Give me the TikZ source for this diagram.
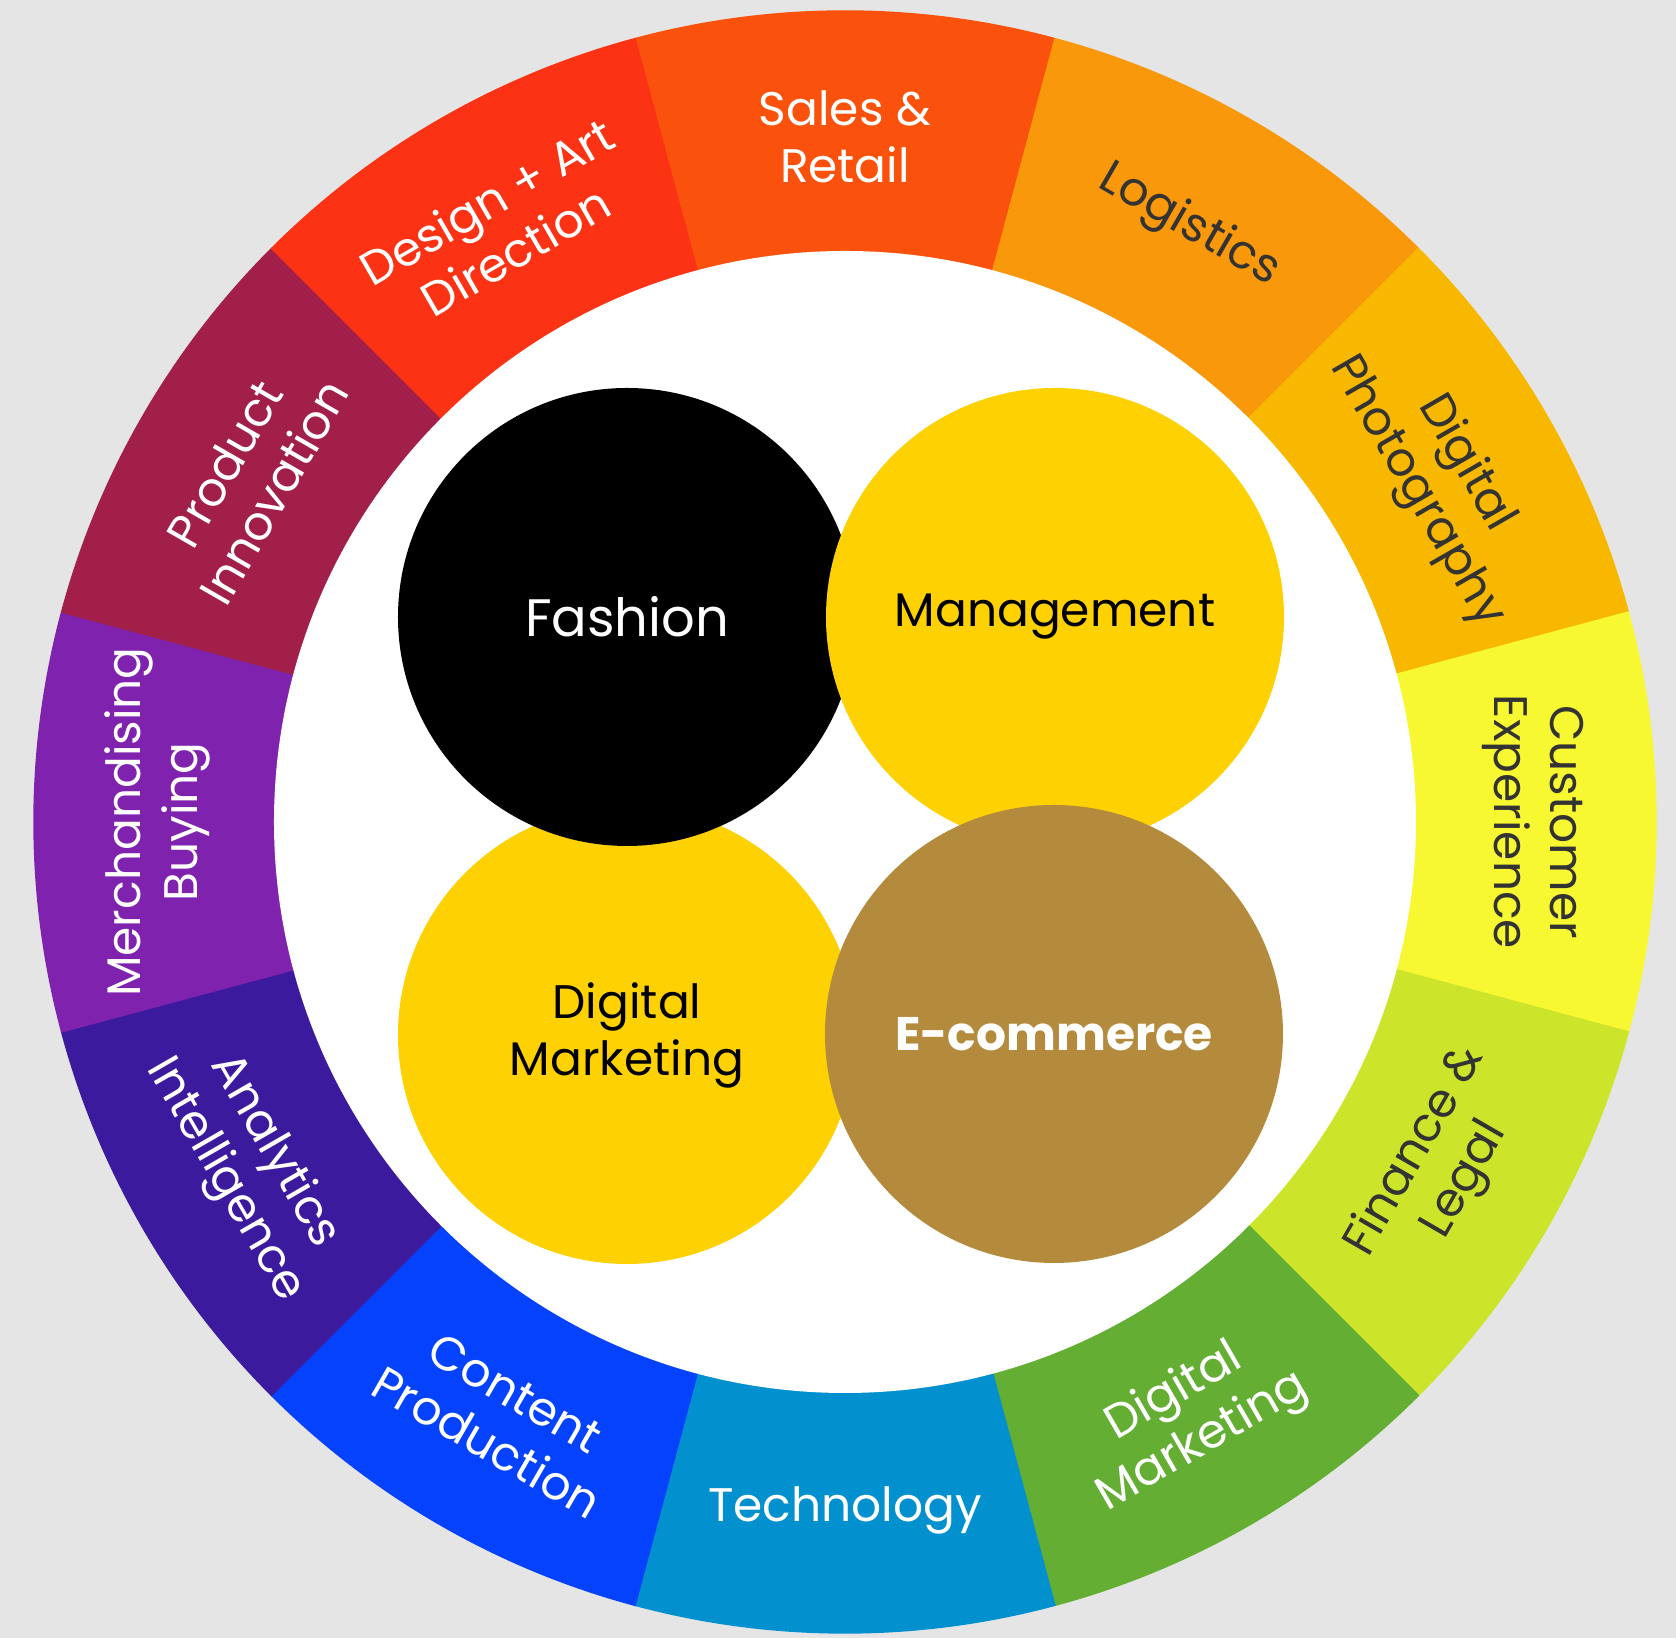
\documentclass[tikz,border=0pt]{standalone}
\usepackage{fontspec}
\setmainfont{Poppins}
\usepackage{tikz}

% ring colours, clockwise from the top
\definecolor{backdrop}{HTML}{E5E5E5}
\definecolor{salescol}{HTML}{FA520C}
\definecolor{logicol}{HTML}{F9980A}
\definecolor{photocol}{HTML}{F8B800}
\definecolor{custcol}{HTML}{F8F832}
\definecolor{financecol}{HTML}{CCE52A}
\definecolor{marketcol}{HTML}{64AE34}
\definecolor{techcol}{HTML}{0291CE}
\definecolor{contentcol}{HTML}{0442FD}
\definecolor{analytcol}{HTML}{3C1A9E}
\definecolor{merchcol}{HTML}{7F22AE}
\definecolor{productcol}{HTML}{A21F4A}
\definecolor{designcol}{HTML}{FB3214}
% inner circles
\definecolor{hubyellow}{HTML}{FED103}
\definecolor{hubgold}{HTML}{B48B3D}
\definecolor{darktext}{HTML}{333333}

\newcommand{\ringfont}{\fontsize{13.4}{16.2}\selectfont}

\tikzstyle{ringtext} = [align=center, inner sep=0pt, font=\ringfont]
\tikzstyle{hub} = [circle, minimum size=4.58cm, inner sep=0pt, align=center, font=\ringfont]

% one 30 degree piece of the ring: #1 = middle angle, #2 = colour
\newcommand{\ringsector}[2]{%
  \filldraw[#2, line width=0.4pt] (#1-15:5.71) arc[start angle=#1-15, end angle=#1+15, radius=5.71]
    -- (#1+15:8.11) arc[start angle=#1+15, end angle=#1-15, radius=8.11] -- cycle;}

\begin{document}
\begin{tikzpicture}
  \fill[backdrop] (-8.45,-8.16) rectangle (8.31,8.22);
  \useasboundingbox (-8.45,-8.16) rectangle (8.31,8.22);

  % outer ring
  \ringsector{90}{salescol}
  \ringsector{60}{logicol}
  \ringsector{30}{photocol}
  \ringsector{0}{custcol}
  \ringsector{-30}{financecol}
  \ringsector{-60}{marketcol}
  \ringsector{-90}{techcol}
  \ringsector{-120}{contentcol}
  \ringsector{-150}{analytcol}
  \ringsector{180}{merchcol}
  \ringsector{150}{productcol}
  \ringsector{120}{designcol}
  \fill[white] (0,0) circle (5.71);

  \node (sales) [ringtext, text=white] at (90:6.85) {Sales \&\\Retail};
  \node (logistics) [ringtext, text=darktext, rotate=-30] at (60:6.88) {Logistics};
  \node (photo) [ringtext, text=darktext, rotate=-60] at (30:6.88) {Digital\\Photography};
  \node (customer) [ringtext, text=darktext, rotate=-90] at (0:6.88) {Customer\\Experience};
  \node (finance) [ringtext, text=darktext, rotate=60] at (-30:6.88) {Finance \&\\Legal};
  \node (marketing) [ringtext, text=white, rotate=30] at (-60:6.88) {Digital\\Marketing};
  \node (tech) [ringtext, text=white] at (-90:6.88) {Technology};
  \node (content) [ringtext, text=white, rotate=-30] at (-120:6.88) {Content\\Production};
  \node (analytics) [ringtext, text=white, rotate=-60] at (-150:6.88) {Analytics\\Intelligence};
  \node (merch) [ringtext, text=white, rotate=90] at (180:6.88) {Merchandising\\Buying};
  \node (product) [ringtext, text=white, rotate=60] at (150:6.88) {Product\\Innovation};
  \node (design) [ringtext, text=white, rotate=30] at (120:6.88) {Design + Art\\Direction};

  % the four circles in the middle
  \node (digital) [hub, fill=hubyellow, text=black] at (-2.18,-2.13) {Digital\\Marketing};
  \node (fashion) [hub, fill=black, text=white, font=\fontsize{15}{18}\selectfont] at (-2.18,2.05) {Fashion};
  \node (manage) [hub, fill=hubyellow, text=black] at (2.10,2.05) {Management};
  \node (ecom) [hub, fill=hubgold, text=white, font=\ringfont\bfseries] at (2.09,-2.12) {E-commerce};

\end{tikzpicture}
\end{document}
